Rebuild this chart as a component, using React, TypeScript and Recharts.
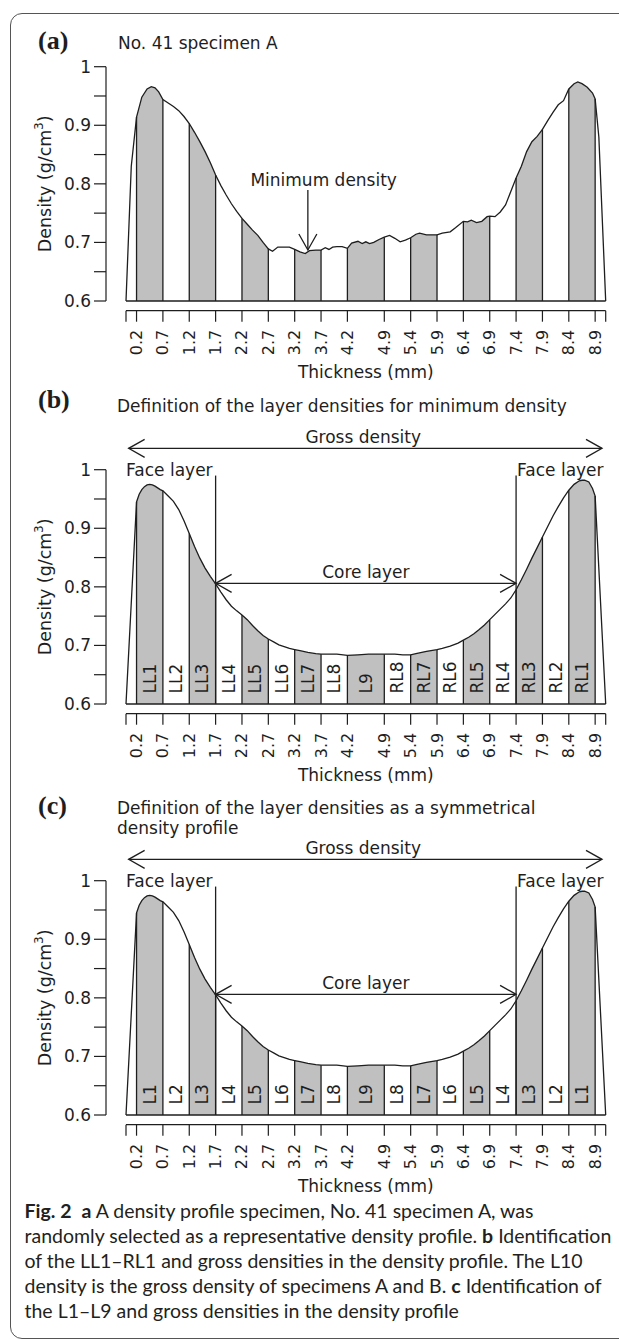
import React from 'react';
import { ComposedChart, Area, XAxis, YAxis, ReferenceLine, ReferenceDot } from 'recharts';

// ---------------- data ----------------
const LAYER_BOUNDS = [0.2, 0.7, 1.2, 1.7, 2.2, 2.7, 3.2, 3.7, 4.2, 4.9, 5.4, 5.9, 6.4, 6.9, 7.4, 7.9, 8.4, 8.9];
const X_TICK_LABELS = ['0.2', '0.7', '1.2', '1.7', '2.2', '2.7', '3.2', '3.7', '4.2', '4.9', '5.4', '5.9', '6.4', '6.9', '7.4', '7.9', '8.4', '8.9'];
const X_DOMAIN: [number, number] = [0, 9.1];
const Y_DOMAIN: [number, number] = [0.6, 1];
const Y_TICKS = [0.6, 0.65, 0.7, 0.75, 0.8, 0.85, 0.9, 0.95, 1];
const Y_TICK_LABELS = ['0.6', '', '0.7', '', '0.8', '', '0.9', '', '1'];

// (a) No. 41 specimen A
const PROFILE_A_T = [0, 0.1, 0.2, 0.3, 0.4, 0.48, 0.55, 0.62, 0.7, 0.8, 0.9, 1.0, 1.1, 1.2, 1.3, 1.4, 1.5, 1.6, 1.7, 1.8, 1.9, 2.0, 2.1, 2.2, 2.3, 2.4, 2.5, 2.6, 2.7, 2.78, 2.88, 3.0, 3.1, 3.2, 3.3, 3.4, 3.48, 3.6, 3.7, 3.78, 3.85, 3.92, 4.0, 4.1, 4.2, 4.28, 4.4, 4.48, 4.55, 4.62, 4.7, 4.8, 4.9, 5.0, 5.1, 5.2, 5.3, 5.4, 5.5, 5.57, 5.7, 5.9, 6.0, 6.15, 6.25, 6.4, 6.48, 6.55, 6.65, 6.75, 6.85, 6.9, 7.0, 7.1, 7.2, 7.3, 7.4, 7.5, 7.6, 7.7, 7.8, 7.9, 8.0, 8.1, 8.2, 8.3, 8.4, 8.5, 8.57, 8.65, 8.75, 8.85, 8.9, 8.97, 9.1];
const PROFILE_A_D = [0.6, 0.83, 0.914, 0.948, 0.962, 0.966, 0.964, 0.957, 0.944, 0.938, 0.932, 0.925, 0.915, 0.903, 0.888, 0.872, 0.855, 0.836, 0.815, 0.797, 0.781, 0.766, 0.753, 0.741, 0.731, 0.721, 0.712, 0.7, 0.689, 0.685, 0.692, 0.692, 0.692, 0.688, 0.684, 0.681, 0.686, 0.687, 0.687, 0.691, 0.688, 0.692, 0.693, 0.693, 0.69, 0.699, 0.702, 0.698, 0.701, 0.698, 0.7, 0.705, 0.709, 0.712, 0.707, 0.701, 0.704, 0.708, 0.714, 0.716, 0.713, 0.713, 0.716, 0.718, 0.725, 0.736, 0.735, 0.738, 0.734, 0.736, 0.744, 0.745, 0.744, 0.752, 0.764, 0.787, 0.81, 0.83, 0.855, 0.872, 0.881, 0.893, 0.908, 0.922, 0.935, 0.942, 0.962, 0.971, 0.974, 0.971, 0.965, 0.955, 0.945, 0.88, 0.6];

// (b), (c) smoothed symmetrical profile
const PROFILE_S_T = [0, 0.2, 0.25, 0.3, 0.35, 0.4, 0.45, 0.5, 0.55, 0.6, 0.65, 0.7, 0.8, 0.9, 1.0, 1.1, 1.2, 1.3, 1.4, 1.5, 1.6, 1.7, 1.8, 1.9, 2.0, 2.1, 2.2, 2.3, 2.4, 2.5, 2.6, 2.7, 2.8, 2.9, 3.0, 3.1, 3.2, 3.3, 3.45, 3.6, 3.7, 3.85, 4.0, 4.2, 4.4, 4.6, 4.9, 5.1, 5.25, 5.4, 5.5, 5.7, 5.9, 6.0, 6.15, 6.3, 6.4, 6.5, 6.6, 6.7, 6.8, 6.9, 7.0, 7.1, 7.2, 7.3, 7.4, 7.5, 7.6, 7.7, 7.8, 7.9, 8.0, 8.1, 8.2, 8.3, 8.4, 8.5, 8.6, 8.65, 8.7, 8.78, 8.85, 8.9, 9.1];
const PROFILE_S_D = [0.6, 0.945, 0.958, 0.966, 0.971, 0.974, 0.975, 0.974, 0.972, 0.969, 0.966, 0.964, 0.955, 0.946, 0.932, 0.913, 0.891, 0.869, 0.849, 0.832, 0.818, 0.805, 0.791, 0.778, 0.767, 0.759, 0.752, 0.744, 0.734, 0.725, 0.717, 0.711, 0.706, 0.701, 0.698, 0.695, 0.693, 0.691, 0.688, 0.686, 0.685, 0.685, 0.685, 0.683, 0.684, 0.685, 0.685, 0.685, 0.684, 0.684, 0.686, 0.69, 0.693, 0.695, 0.699, 0.704, 0.709, 0.714, 0.72, 0.727, 0.735, 0.744, 0.753, 0.762, 0.771, 0.781, 0.795, 0.812, 0.83, 0.849, 0.867, 0.885, 0.903, 0.921, 0.937, 0.952, 0.965, 0.975, 0.981, 0.982, 0.982, 0.979, 0.968, 0.955, 0.6];

const LAYERS_B = ['LL1', 'LL2', 'LL3', 'LL4', 'LL5', 'LL6', 'LL7', 'LL8', 'L9', 'RL8', 'RL7', 'RL6', 'RL5', 'RL4', 'RL3', 'RL2', 'RL1'];
const LAYERS_C = ['L1', 'L2', 'L3', 'L4', 'L5', 'L6', 'L7', 'L8', 'L9', 'L8', 'L7', 'L6', 'L5', 'L4', 'L3', 'L2', 'L1'];

const FACE_BOUNDS = [1.7, 7.4];

// ---------------- styles ----------------
const INK = '#1e1e1e';
const GRAY = '#c0c0c0';
const FONT = '"DejaVu Sans", sans-serif';

const valueAt = (T: number[], D: number[], x: number) => {
  for (let i = 0; i < T.length - 1; i++) {
    if (x >= T[i] && x <= T[i + 1]) {
      const f = (x - T[i]) / (T[i + 1] - T[i]);
      return D[i] + f * (D[i + 1] - D[i]);
    }
  }
  return D[D.length - 1];
};

const gradientStops = () => {
  const edges = [X_DOMAIN[0], ...LAYER_BOUNDS, X_DOMAIN[1]];
  const span = X_DOMAIN[1] - X_DOMAIN[0];
  const out: any[] = [];
  for (let i = 0; i < edges.length - 1; i++) {
    const gray = i % 2 === 1 && i <= LAYER_BOUNDS.length - 1;
    const c = gray ? GRAY : '#ffffff';
    const o = gray ? 1 : 0;
    out.push(<stop key={`a${i}`} offset={(edges[i] - X_DOMAIN[0]) / span} stopColor={c} stopOpacity={o} />);
    out.push(<stop key={`b${i}`} offset={(edges[i + 1] - X_DOMAIN[0]) / span} stopColor={c} stopOpacity={o} />);
  }
  return out;
};

const txt = (key: string, x: number, y: number, text: string, anchor: string = 'middle', dx = 0, size = 17) => (
  <ReferenceDot
    key={key}
    xAxisId="main"
    yAxisId="main"
    x={x}
    y={y}
    r={0}
    ifOverflow="visible"
    shape={(p: any) => (
      <text x={p.cx + dx} y={p.cy} textAnchor={anchor as any} dominantBaseline="central" fontSize={size} fill={INK} fontFamily={FONT}>
        {text}
      </text>
    )}
  />
);

const arrow = (key: string, x1: number, y1: number, x2: number, y2: number, both: boolean) => (
  <ReferenceLine
    key={key}
    xAxisId="main"
    yAxisId="main"
    segment={[{ x: x1, y: y1 }, { x: x2, y: y2 }]}
    ifOverflow="visible"
    shape={(p: any) => (
      <line
        x1={p.x1}
        y1={p.y1}
        x2={p.x2}
        y2={p.y2}
        stroke={INK}
        strokeWidth={1.3}
        markerEnd="url(#arrowHeadEnd)"
        markerStart={both ? 'url(#arrowHeadStart)' : undefined}
      />
    )}
  />
);

const seg = (key: string, x1: number, y1: number, x2: number, y2: number) => (
  <ReferenceLine
    key={key}
    xAxisId="main"
    yAxisId="main"
    segment={[{ x: x1, y: y1 }, { x: x2, y: y2 }]}
    ifOverflow="visible"
    stroke={INK}
    strokeWidth={1.3}
    strokeOpacity={1}
  />
);

const XTick = (props: any) => {
  const { x, y, payload } = props;
  const idx = LAYER_BOUNDS.findIndex((b) => Math.abs(b - payload.value) < 1e-6);
  if (idx < 0) return <g />;
  return (
    <text
      x={x}
      y={y + 6}
      transform={`rotate(-90, ${x}, ${y + 6})`}
      textAnchor="end"
      dominantBaseline="central"
      fontSize={16}
      fill={INK}
      fontFamily={FONT}
    >
      {X_TICK_LABELS[idx]}
    </text>
  );
};

const YTick = (props: any) => {
  const { x, y, payload } = props;
  const idx = Y_TICKS.findIndex((v) => Math.abs(v - payload.value) < 1e-6);
  const label = idx >= 0 ? Y_TICK_LABELS[idx] : '';
  return (
    <text x={x} y={y} textAnchor="end" dominantBaseline="central" fontSize={17} fill={INK} fontFamily={FONT}>
      {label}
    </text>
  );
};

const yLabel = (props: any) => {
  const vb = props.viewBox || {};
  const cx = (vb.x || 0) + 45;
  const cy = (vb.y || 0) + (vb.height || 0) / 2;
  return (
    <text x={cx} y={cy} transform={`rotate(-90, ${cx}, ${cy})`} textAnchor="middle" dominantBaseline="central" fontSize={17.5} fill={INK} fontFamily={FONT}>
      <tspan>Density (g/cm</tspan>
      <tspan dy={-6} fontSize={11.5}>3</tspan>
      <tspan dy={6}>)</tspan>
    </text>
  );
};

const xLabel = (props: any) => {
  const vb = props.viewBox || {};
  const cx = (vb.x || 0) + (vb.width || 0) / 2;
  const cy = (vb.y || 0) + 61.3;
  return (
    <text x={cx} y={cy} textAnchor="middle" dominantBaseline="central" fontSize={17} fill={INK} fontFamily={FONT}>
      Thickness (mm)
    </text>
  );
};

type PanelProps = { T: number[]; D: number[]; kind: 'a' | 'b' | 'c'; top: number };

const Panel = ({ T, D, kind, top }: PanelProps) => {
  const data = T.map((t, i) => ({ t, d: D[i] }));
  const layers = kind === 'b' ? LAYERS_B : kind === 'c' ? LAYERS_C : null;
  const annotations: any[] = [];

  if (kind === 'a') {
    annotations.push(txt('min-t', 3.75, 0.8066, 'Minimum density'));
    annotations.push(arrow('min-a', 3.45, 0.7895, 3.45, 0.687, false));
  } else {
    annotations.push(arrow('gross-a', 0.05, 1.0365, 9.03, 1.0365, true));
    annotations.push(txt('gross-t', 4.5, 1.0565, 'Gross density'));
    annotations.push(seg('face-l', FACE_BOUNDS[0], 0.6, FACE_BOUNDS[0], 0.99));
    annotations.push(seg('face-r', FACE_BOUNDS[1], 0.6, FACE_BOUNDS[1], 0.99));
    annotations.push(txt('face-lt', FACE_BOUNDS[0], 1.0, 'Face layer', 'end', -3));
    annotations.push(txt('face-rt', FACE_BOUNDS[1], 1.0, 'Face layer', 'start', 1));
    annotations.push(arrow('core-a', FACE_BOUNDS[0], 0.806, FACE_BOUNDS[1], 0.806, true));
    annotations.push(txt('core-t', 4.55, 0.8262, 'Core layer'));
  }

  return (
    <div style={{ position: 'absolute', left: 0, top }}>
      <ComposedChart width={619} height={390} data={data} margin={{ top: 66.7, right: 13.3, bottom: 7.3, left: 0 }}>
        <XAxis xAxisId="main" dataKey="t" type="number" domain={X_DOMAIN} height={9.7} axisLine={false} tickLine={false} tick={false} />
        <XAxis
          xAxisId="ticks"
          dataKey="t"
          type="number"
          domain={X_DOMAIN}
          allowDataOverflow
          ticks={[X_DOMAIN[0], ...LAYER_BOUNDS, X_DOMAIN[1]]}
          interval={0}
          height={72}
          tickSize={11}
          tickMargin={2}
          axisLine={{ stroke: INK, strokeWidth: 1.2 }}
          tickLine={{ stroke: INK, strokeWidth: 1.2 }}
          tick={XTick}
          label={xLabel}
        />
        <YAxis yAxisId="main" type="number" domain={Y_DOMAIN} width={20} axisLine={false} tickLine={false} tick={false} />
        <YAxis
          yAxisId="outer"
          type="number"
          domain={Y_DOMAIN}
          allowDataOverflow
          ticks={Y_TICKS}
          interval={0}
          width={106}
          tickSize={12}
          tickMargin={3}
          axisLine={{ stroke: INK, strokeWidth: 1.2 }}
          tickLine={{ stroke: INK, strokeWidth: 1.2 }}
          tick={YTick}
          label={yLabel}
        />
        <Area
          xAxisId="main"
          yAxisId="main"
          dataKey="d"
          type="linear"
          baseValue={0.6}
          stroke={INK}
          strokeWidth={1.3}
          fill="url(#layerFill)"
          fillOpacity={1}
          dot={false}
          activeDot={false}
          isAnimationActive={false}
        />
        <ReferenceLine xAxisId="main" yAxisId="main" y={0.6} stroke={INK} strokeWidth={1.3} strokeOpacity={1} />
        {LAYER_BOUNDS.map((b, i) => seg(`bound-${i}`, b, 0.6, b, valueAt(T, D, b)))}
        {layers &&
          layers.map((name, i) => (
            <ReferenceDot
              key={`lay-${i}`}
              xAxisId="main"
              yAxisId="main"
              x={(LAYER_BOUNDS[i] + LAYER_BOUNDS[i + 1]) / 2}
              y={0.618}
              r={0}
              ifOverflow="visible"
              shape={(p: any) => (
                <text
                  x={p.cx}
                  y={p.cy}
                  transform={`rotate(-90, ${p.cx}, ${p.cy})`}
                  textAnchor="start"
                  dominantBaseline="central"
                  fontSize={17}
                  fill={INK}
                  fontFamily={FONT}
                >
                  {name}
                </text>
              )}
            />
          ))}
        {annotations}
      </ComposedChart>
    </div>
  );
};

const panelLabel: React.CSSProperties = {
  position: 'absolute',
  fontFamily: '"Liberation Serif", "Times New Roman", serif',
  fontWeight: 700,
  fontSize: 26,
  lineHeight: 1.2,
  color: INK,
  whiteSpace: 'nowrap',
};
const titleStyle: React.CSSProperties = {
  position: 'absolute',
  fontFamily: FONT,
  fontSize: 17,
  lineHeight: '20.4px',
  color: INK,
  whiteSpace: 'nowrap',
};
const capLine: React.CSSProperties = {
  position: 'absolute',
  left: 24.5,
  fontFamily: 'Lato, "Open Sans", sans-serif',
  fontSize: 19.5,
  lineHeight: '25px',
  color: '#231f20',
  whiteSpace: 'nowrap',
};

export default function App() {
  return (
    <div style={{ position: 'absolute', left: 0, top: 0, width: 619, height: 1339, overflow: 'hidden', background: '#fff' }}>
      <svg width={0} height={0} style={{ position: 'absolute' }}>
        <defs>
          <linearGradient id="layerFill" x1="0" y1="0" x2="1" y2="0">
            {gradientStops()}
          </linearGradient>
          <marker id="arrowHeadEnd" markerUnits="userSpaceOnUse" orient="auto" markerWidth="40" markerHeight="40" refX="0" refY="0" viewBox="-20 -20 40 40" overflow="visible">
            <path d="M-16,-9 L0,0 L-16,9" fill="none" stroke={INK} strokeWidth={1.3} />
          </marker>
          <marker id="arrowHeadStart" markerUnits="userSpaceOnUse" orient="auto-start-reverse" markerWidth="40" markerHeight="40" refX="0" refY="0" viewBox="-20 -20 40 40" overflow="visible">
            <path d="M-16,-9 L0,0 L-16,9" fill="none" stroke={INK} strokeWidth={1.3} />
          </marker>
        </defs>
      </svg>

      <div style={{ position: 'absolute', left: 10, top: 13, width: 660, height: 1326, border: '1.3px solid #555', borderRadius: 12, boxSizing: 'border-box' }} />

      <Panel T={PROFILE_A_T} D={PROFILE_A_D} kind="a" top={0} />
      <Panel T={PROFILE_S_T} D={PROFILE_S_D} kind="b" top={403} />
      <Panel T={PROFILE_S_T} D={PROFILE_S_D} kind="c" top={813.5} />

      <div style={{ ...panelLabel, left: 38, top: 24.7 }}>(a)</div>
      <div style={{ ...titleStyle, left: 118, top: 33 }}>No. 41 specimen A</div>

      <div style={{ ...panelLabel, left: 38, top: 384 }}>(b)</div>
      <div style={{ ...titleStyle, left: 117, top: 396 }}>Definition of the layer densities for minimum density</div>

      <div style={{ ...panelLabel, left: 38, top: 789.7 }}>(c)</div>
      <div style={{ ...titleStyle, left: 117, top: 798 }}>Definition of the layer densities as a symmetrical</div>
      <div style={{ ...titleStyle, left: 117, top: 818 }}>density profile</div>

      <div style={{ ...capLine, top: 1198 }}>
        <b>Fig. 2</b>&nbsp;&nbsp;<b>a</b> A density profile specimen, No. 41 specimen A, was
      </div>
      <div style={{ ...capLine, top: 1223 }}>
        randomly selected as a representative density profile. <b>b</b> Identification
      </div>
      <div style={{ ...capLine, top: 1248 }}>of the LL1–RL1 and gross densities in the density profile. The L10</div>
      <div style={{ ...capLine, top: 1273 }}>
        density is the gross density of specimens A and B. <b>c</b> Identification of
      </div>
      <div style={{ ...capLine, top: 1298 }}>the L1–L9 and gross densities in the density profile</div>
    </div>
  );
}
